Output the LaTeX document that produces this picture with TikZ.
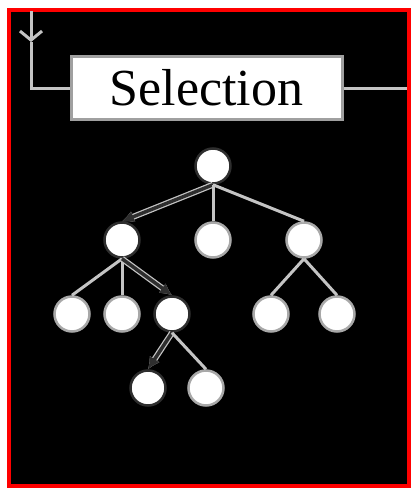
\documentclass[tikz,border=0pt]{standalone}
\usepackage{fontspec}
\setmainfont{Liberation Serif}
\usetikzlibrary{arrows.meta}

\definecolor{edgegray}{HTML}{C4C4C4}
\definecolor{ringgray}{HTML}{A8A8A8}
\definecolor{boxgray}{HTML}{A0A0A0}
\definecolor{pathdark}{HTML}{2E2E2E}

\begin{document}
\begin{tikzpicture}[x=1pt,y=1pt,
  level distance=74pt,
  level 1/.style={sibling distance=91pt},
  level 2/.style={sibling distance=50pt},
  level 3/.style={sibling distance=58pt},
  parent anchor=south, child anchor=north,
  edge from parent/.style={draw=edgegray,line width=3pt},
  vtx/.style={circle,draw=ringgray,line width=2.5pt,fill=white,minimum size=35pt,inner sep=0pt},
  onpath/.style={vtx,draw=pathdark},
  chosen/.style={draw=pathdark,line width=3.5pt,-{Latex[length=12pt,width=12pt]},
    preaction={draw=edgegray,line width=6pt}},
  flow/.style={draw=edgegray,line width=3pt},
  selbox/.style={draw=boxgray,line width=3pt,fill=white,minimum width=271pt,
    minimum height=63pt,inner sep=0pt,font=\fontsize{52}{60}\selectfont}]
\path[use as bounding box,fill=white] (0,0) rectangle (411,-488);
\draw[red,line width=4pt,fill=black] (8.5,-9.5) rectangle (409,-485.5);

% incoming flow and the step box
\coordinate (top) at (31,-11);
\coordinate (bend) at (31,-42);
\coordinate (rim) at (407,0);
\node[selbox] (sel) at (206.5,-88) {Selection};
\draw[flow,-{Straight Barb[length=9pt,width=22pt]}] (top) -- (bend);
\draw[flow] (bend) |- (sel.west);
\draw[flow] (sel.east) -- (sel.east -| rim);

% search tree, selected path in dark
\node[onpath] (z) at (213,-166) {}
  child {node[onpath] (lz) {}
    child {node[vtx] (llz) {}}
    child {node[vtx] (lmz) {}}
    child {node[onpath] (lrz) {}
      child[xshift=5pt] {node[onpath] (lrlz) {} edge from parent[chosen]}
      child[xshift=5pt] {node[vtx] (lrrz) {}}
      edge from parent[chosen]
    }
    edge from parent[chosen]
  }
  child {node[vtx] (mz) {}}
  child {node[vtx] (rz) {}
    child[sibling distance=66pt] {node[vtx] (rlz) {}}
    child[sibling distance=66pt] {node[vtx] (rrz) {}}
  };
\end{tikzpicture}
\end{document}
